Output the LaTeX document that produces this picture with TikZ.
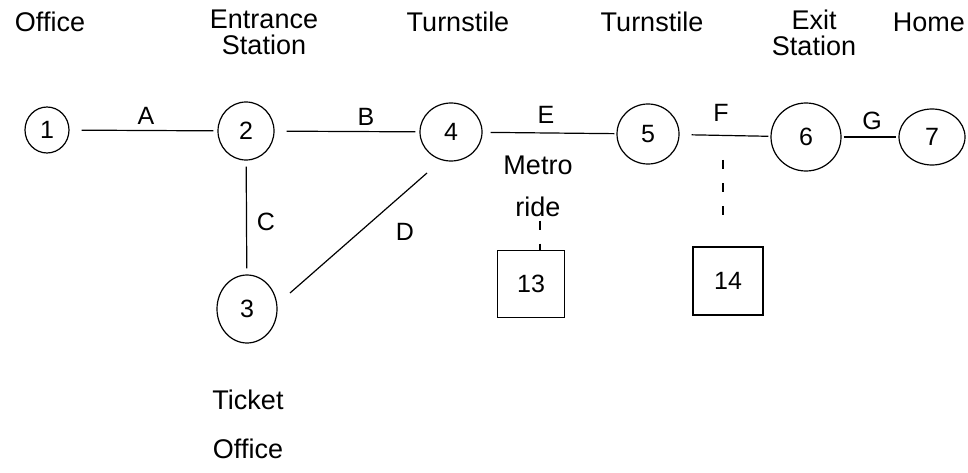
\documentclass[tikz,border=0pt]{standalone}
\usepackage{fontspec}
\setmainfont{Liberation Sans}
\usetikzlibrary{shapes.geometric}
\begin{document}
\begin{tikzpicture}[x=1pt,y=-1pt,
  ink/.style={line width=1.2pt,black},
  stop/.style={ink,draw,ellipse,inner sep=0pt,font=\fontsize{25}{25}\selectfont},
  bx/.style={ink,draw,rectangle,inner sep=0pt,minimum width=66pt,minimum height=66pt,font=\fontsize{25}{25}\selectfont},
  lbl/.style={font=\fontsize{27}{26}\selectfont,align=center,inner sep=0pt},
  lblwide/.style={font=\fontsize{27}{45}\selectfont,align=center,inner sep=0pt},
  elbl/.style={font=\fontsize{25}{25}\selectfont,inner sep=0pt},
  edge/.style={ink,shorten <=12pt,shorten >=4pt},
  dsh/.style={ink,dash pattern=on 9pt off 14pt}]
\useasboundingbox (0,0) rectangle (968,473);
% stops
\node[stop,minimum width=44pt,minimum height=46pt] (n1) at (47,130) {1};
\node[stop,minimum width=56pt,minimum height=58pt] (n2) at (246,131) {2};
\node[stop,minimum width=62pt,minimum height=58pt] (n4) at (451,132) {4};
\node[stop,minimum width=62pt,minimum height=60pt] (n5) at (648,134) {5};
\node[stop,minimum width=70pt,minimum height=68pt] (n6) at (806,137) {6};
\node[stop,minimum width=66pt,minimum height=56pt] (n7) at (932,137) {7};
\node[stop,minimum width=60pt,minimum height=68pt] (n3) at (247,309) {3};
\node[bx,minimum width=67pt,minimum height=67pt] (b13) at (531,284) {13};
\node[bx,minimum width=70pt,minimum height=68pt] (b14) at (728,281) {14};
% place labels
\node[lbl] (tOffice) at (50,22) {Office};
\node[lbl] (tEntr) at (264,32) {Entrance\\Station};
\node[lbl] (tTurn1) at (458,22) {Turnstile};
\node[lbl] (tTurn2) at (652,22) {Turnstile};
\node[lbl] (tExit) at (814,33) {Exit\\Station};
\node[lbl,anchor=east] (tHome) at (965,22) {Home};
\node[lblwide,font=\fontsize{27}{42}\selectfont] (tMetro) at (538,186) {Metro\\ride};
\node[lblwide,font=\fontsize{27}{49}\selectfont] (tTicket) at (248,424) {Ticket\\Office};
% edges
\draw[edge] (n1) -- (n2);
\draw[edge] (n2) -- (n4);
\draw[edge,shorten <=8pt,shorten >=2pt] (n4) -- (n5);
\draw[edge,shorten <=12pt,shorten >=2pt] (n5) -- (n6);
\draw[edge,shorten <=2pt,shorten >=2pt] (n6) -- (n7);
\draw[edge,shorten <=6pt,shorten >=6pt] (n2) -- (n3);
\draw[ink] (290,293) coordinate (dA) -- (427,173) coordinate (dB);
% edge labels
\node[elbl] (lA) at (146,116) {A};
\node[elbl] (lB) at (366,117) {B};
\node[elbl] (lE) at (546,115) {E};
\node[elbl] (lF) at (721,113) {F};
\node[elbl] (lG) at (872,121) {G};
\node[elbl] (lC) at (266,222) {C};
\node[elbl] (lD) at (405,232) {D};
% dashed links
\draw[dsh] (tMetro.south) ++(2,4) coordinate (m1) -- (b13.north -| m1);
\coordinate (fmid) at (723,134);
\draw[dsh,shorten <=26pt,shorten >=20pt] (fmid) -- (b14.north -| fmid);
\end{tikzpicture}
\end{document}
